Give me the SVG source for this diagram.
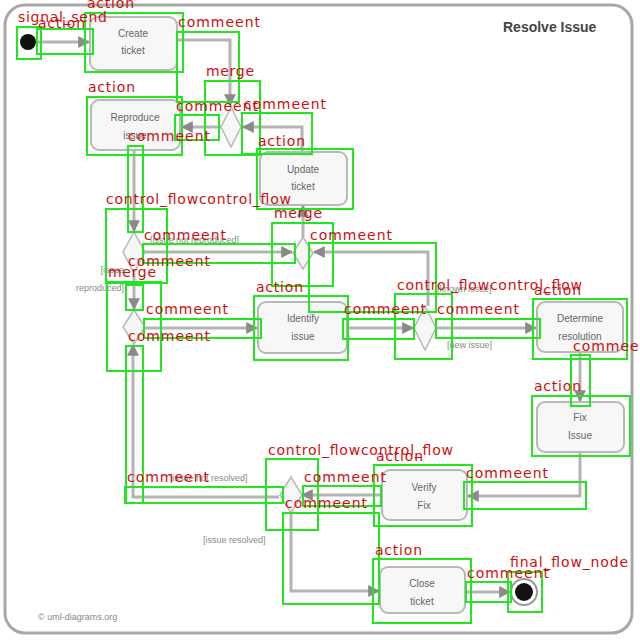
<svg xmlns="http://www.w3.org/2000/svg" width="640" height="640" viewBox="0 0 640 640">
<defs>
<marker id="arr" viewBox="0 0 10 10" refX="9" refY="5" markerWidth="4" markerHeight="4" orient="auto">
<path d="M0,0 L10,5 L0,10 z" fill="#8a8a8a"/>
</marker>
<style>
.frame{fill:#ffffff;stroke:#a8a8a8;stroke-width:3}
.act{fill:#f7f7f7;stroke:#b8b8b8;stroke-width:2}
.dia{fill:#f7f7f7;stroke:#b8b8b8;stroke-width:1.5}
.lbl{font-family:"Liberation Sans",Arial,sans-serif;font-size:10px;fill:#666;text-anchor:middle}
.grd{font-family:"Liberation Sans",Arial,sans-serif;font-size:9px;fill:#888}
.ttl{font-family:"Liberation Sans",Arial,sans-serif;font-size:14px;font-weight:bold;fill:#444}
.cn{fill:none;stroke:#b4b4b4;stroke-width:3;marker-end:url(#arr)}
.bx{fill:none;stroke:#22e622;stroke-width:2}
.an{font-family:"DejaVu Sans",sans-serif;font-size:14px;fill:#cc1010;lengthAdjust:spacingAndGlyphs}
</style>
</defs>
<rect width="640" height="640" fill="#ffffff"/>
<rect class="frame" x="5" y="5" width="627" height="628" rx="20"/>
<text class="ttl" x="503" y="32">Resolve Issue</text>
<text class="grd" x="38" y="620" font-size="11">© uml-diagrams.org</text>

<g id="connectors">
<path class="cn" d="M37,42 H89"/>
<path class="cn" d="M177,40 H230 V105"/>
<path class="cn" d="M221,127 H182"/>
<path class="cn" d="M302,152 V127 H243"/>
<path class="cn" d="M134,150 V231"/>
<path class="cn" d="M145,252 H292"/>
<path class="cn" d="M134,273 V309"/>
<path class="cn" d="M303,237 V206"/>
<path class="cn" d="M428,306 V252 H314"/>
<path class="cn" d="M145,328 H257"/>
<path class="cn" d="M347,328 H413"/>
<path class="cn" d="M436,328 H536"/>
<path class="cn" d="M580,352 V401"/>
<path class="cn" d="M580,452 V496 H468"/>
<path class="cn" d="M381,495 H302"/>
<path class="cn" d="M279,497 H133 V345"/>
<path class="cn" d="M291,513 V591 H379"/>
<path class="cn" d="M465,592 H510"/>
</g>

<g id="start"><circle cx="28" cy="42" r="8" fill="#111"/></g>
<g id="create_ticket"><rect class="act" x="90" y="17" width="87" height="53" rx="8"/><text class="lbl" x="133" y="37">Create</text><text class="lbl" x="133" y="54">ticket</text></g>
<g id="merge1"><path class="dia" d="M231,107 L241,127 L231,147 L221,127 z"/></g>
<g id="reproduce_issue"><rect class="act" x="91" y="100" width="89" height="50" rx="8"/><text class="lbl" x="135" y="121">Reproduce</text><text class="lbl" x="135" y="139">issue</text></g>
<g id="update_ticket"><rect class="act" x="260" y="152" width="87" height="53" rx="8"/><text class="lbl" x="303" y="173">Update</text><text class="lbl" x="303" y="190">ticket</text></g>
<g id="decision1"><path class="dia" d="M134,232 L145,252 L134,273 L123,252 z"/>
<text class="grd" x="150" y="243">[issue not reproduced]</text>
<text class="grd" x="124" y="273" text-anchor="end">[issue</text><text class="grd" x="124" y="291" text-anchor="end">reproduced]</text></g>
<g id="merge2"><path class="dia" d="M303,237 L313,253 L303,269 L293,253 z"/></g>
<g id="merge3"><path class="dia" d="M134,310 L145,327 L134,344 L123,327 z"/></g>
<g id="identify_issue"><rect class="act" x="258" y="302" width="89" height="51" rx="8"/><text class="lbl" x="303" y="322">Identify</text><text class="lbl" x="303" y="340">issue</text></g>
<g id="decision2"><path class="dia" d="M425,306 L436,328 L425,350 L414,328 z"/>
<text class="grd" x="437" y="292">[known issue]</text><text class="grd" x="447" y="348">[new issue]</text></g>
<g id="determine_resolution"><rect class="act" x="537" y="302" width="86" height="50" rx="8"/><text class="lbl" x="580" y="322">Determine</text><text class="lbl" x="580" y="340">resolution</text></g>
<g id="fix_issue"><rect class="act" x="537" y="402" width="87" height="50" rx="8"/><text class="lbl" x="580" y="421">Fix</text><text class="lbl" x="580" y="439">Issue</text></g>
<g id="verify_fix"><rect class="act" x="382" y="470" width="85" height="50" rx="8"/><text class="lbl" x="424" y="491">Verify</text><text class="lbl" x="424" y="509">Fix</text></g>
<g id="decision3"><path class="dia" d="M291,477 L302,495 L291,513 L280,495 z"/>
<text class="grd" x="170" y="481">[issue not resolved]</text><text class="grd" x="203" y="543">[issue resolved]</text></g>
<g id="close_ticket"><rect class="act" x="380" y="567" width="85" height="46" rx="8"/><text class="lbl" x="422" y="587">Close</text><text class="lbl" x="422" y="605">ticket</text></g>
<g id="final"><circle cx="524" cy="592" r="13" fill="#fff" stroke="#999" stroke-width="2"/><circle cx="524" cy="592" r="9" fill="#111"/></g>

<g id="annotations">
<rect class="bx" x="17" y="27" width="24" height="32"/>
<rect class="bx" x="37" y="29" width="56" height="25"/>
<rect class="bx" x="85" y="13" width="98" height="59"/>
<rect class="bx" x="177" y="32" width="62" height="70"/>
<rect class="bx" x="205" y="81" width="55" height="74"/>
<rect class="bx" x="87" y="97" width="95" height="58"/>
<rect class="bx" x="175" y="115" width="44" height="25"/>
<rect class="bx" x="242" y="113" width="70" height="41"/>
<rect class="bx" x="257" y="149" width="96" height="60"/>
<rect class="bx" x="128" y="146" width="15" height="86"/>
<rect class="bx" x="106" y="209" width="61" height="74"/>
<rect class="bx" x="143" y="244" width="152" height="19"/>
<rect class="bx" x="126" y="285" width="17" height="25"/>
<rect class="bx" x="107" y="282" width="54" height="89"/>
<rect class="bx" x="144" y="319" width="117" height="19"/>
<rect class="bx" x="126" y="346" width="17" height="157"/>
<rect class="bx" x="125" y="487" width="158" height="16"/>
<rect class="bx" x="272" y="223" width="61" height="63"/>
<rect class="bx" x="309" y="243" width="127" height="69"/>
<rect class="bx" x="254" y="296" width="94" height="64"/>
<rect class="bx" x="343" y="319" width="71" height="20"/>
<rect class="bx" x="395" y="294" width="57" height="65"/>
<rect class="bx" x="436" y="319" width="104" height="19"/>
<rect class="bx" x="533" y="299" width="94" height="60"/>
<rect class="bx" x="571" y="355" width="19" height="51"/>
<rect class="bx" x="532" y="396" width="98" height="60"/>
<rect class="bx" x="464" y="482" width="122" height="27"/>
<rect class="bx" x="374" y="465" width="98" height="61"/>
<rect class="bx" x="266" y="459" width="52" height="71"/>
<rect class="bx" x="303" y="486" width="78" height="20"/>
<rect class="bx" x="283" y="513" width="96" height="91"/>
<rect class="bx" x="373" y="559" width="98" height="64"/>
<rect class="bx" x="466" y="582" width="45" height="20"/>
<rect class="bx" x="508" y="572" width="34" height="40"/>

<text class="an" x="87" y="8" textLength="47">action</text>
<text class="an" x="18" y="22" textLength="89">signal_send</text>
<text class="an" x="38" y="28" textLength="47">action</text>
<text class="an" x="178" y="27" textLength="82">commeent</text>
<text class="an" x="206" y="76" textLength="48">merge</text>
<text class="an" x="88" y="92" textLength="47">action</text>
<text class="an" x="176" y="111" textLength="82">commeent</text>
<text class="an" x="244" y="109" textLength="82">commeent</text>
<text class="an" x="128" y="141" textLength="82">commeent</text>
<text class="an" x="258" y="146" textLength="47">action</text>
<text class="an" x="106" y="204" textLength="185">control_flowcontrol_flow</text>
<text class="an" x="274" y="218" textLength="48">merge</text>
<text class="an" x="144" y="240" textLength="82">commeent</text>
<text class="an" x="310" y="240" textLength="82">commeent</text>
<text class="an" x="128" y="266" textLength="82">commeent</text>
<text class="an" x="108" y="277" textLength="48">merge</text>
<text class="an" x="256" y="292" textLength="47">action</text>
<text class="an" x="397" y="290" textLength="185">control_flowcontrol_flow</text>
<text class="an" x="534" y="295" textLength="47">action</text>
<text class="an" x="146" y="314" textLength="82">commeent</text>
<text class="an" x="344" y="314" textLength="82">commeent</text>
<text class="an" x="437" y="314" textLength="82">commeent</text>
<text class="an" x="128" y="341" textLength="82">commeent</text>
<text class="an" x="573" y="351" textLength="82">commeent</text>
<text class="an" x="534" y="391" textLength="47">action</text>
<text class="an" x="268" y="455" textLength="185">control_flowcontrol_flow</text>
<text class="an" x="376" y="461" textLength="47">action</text>
<text class="an" x="466" y="478" textLength="82">commeent</text>
<text class="an" x="127" y="482" textLength="82">commeent</text>
<text class="an" x="304" y="482" textLength="82">commeent</text>
<text class="an" x="285" y="508" textLength="82">commeent</text>
<text class="an" x="375" y="555" textLength="47">action</text>
<text class="an" x="510" y="567" textLength="118">final_flow_node</text>
<text class="an" x="467" y="578" textLength="82">commeent</text>
</g>
</svg>
